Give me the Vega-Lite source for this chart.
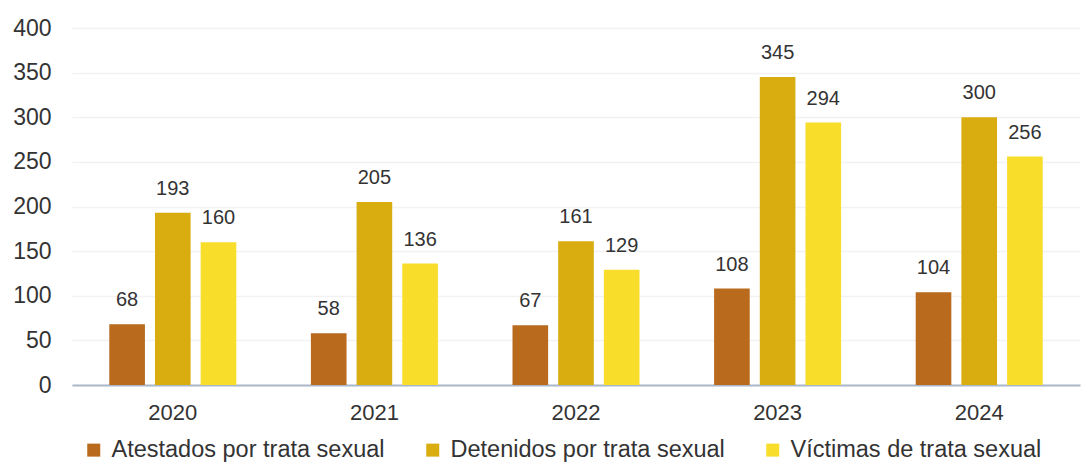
{
  "$schema": "https://vega.github.io/schema/vega-lite/v6.json",
  "width": 1088,
  "height": 462,
  "autosize": {"type": "fit", "contains": "padding"},
  "padding": {"left": 12, "top": 17, "right": 8, "bottom": 0},
  "background": "white",
  "config": {
    "font": "Liberation Sans",
    "view": {"stroke": null}
  },
  "data": {
    "values": [
      {"year": "2020", "serie": "Atestados por trata sexual", "value": 68},
      {"year": "2020", "serie": "Detenidos por trata sexual", "value": 193},
      {"year": "2020", "serie": "Víctimas de trata sexual", "value": 160},
      {"year": "2021", "serie": "Atestados por trata sexual", "value": 58},
      {"year": "2021", "serie": "Detenidos por trata sexual", "value": 205},
      {"year": "2021", "serie": "Víctimas de trata sexual", "value": 136},
      {"year": "2022", "serie": "Atestados por trata sexual", "value": 67},
      {"year": "2022", "serie": "Detenidos por trata sexual", "value": 161},
      {"year": "2022", "serie": "Víctimas de trata sexual", "value": 129},
      {"year": "2023", "serie": "Atestados por trata sexual", "value": 108},
      {"year": "2023", "serie": "Detenidos por trata sexual", "value": 345},
      {"year": "2023", "serie": "Víctimas de trata sexual", "value": 294},
      {"year": "2024", "serie": "Atestados por trata sexual", "value": 104},
      {"year": "2024", "serie": "Detenidos por trata sexual", "value": 300},
      {"year": "2024", "serie": "Víctimas de trata sexual", "value": 256}
    ]
  },
  "encoding": {
    "x": {
      "field": "year", "type": "nominal", "title": null,
      "scale": {"paddingInner": 0.37, "paddingOuter": 0.185},
      "axis": {"labelAngle": 0, "labelFontSize": 22, "labelColor": "#333333", "labelPadding": 17, "ticks": false, "domainColor": "#A9B7CA", "domainWidth": 2}
    },
    "xOffset": {"field": "serie", "type": "nominal", "scale": {"paddingInner": 0.22}},
    "y": {
      "field": "value", "type": "quantitative", "title": null,
      "scale": {"domain": [0, 400]},
      "axis": {"values": [0, 50, 100, 150, 200, 250, 300, 350, 400], "labelFontSize": 23, "labelColor": "#333333", "labelPadding": 21, "ticks": false, "domain": false, "gridColor": "#F2F2F2", "gridWidth": 1.5}
    }
  },
  "layer": [
    {
      "mark": {"type": "bar"},
      "encoding": {
        "color": {
          "field": "serie", "type": "nominal", "title": " ",
          "scale": {"range": ["#B96A1C", "#D9AC10", "#F8DD2B"]},
          "legend": {"orient": "bottom", "direction": "horizontal", "titleOrient": "left", "titlePadding": 10, "titleFontSize": 10, "symbolType": "square", "symbolSize": 169, "labelFontSize": 23.5, "labelColor": "#333333", "columnPadding": 36, "labelLimit": 400, "symbolStrokeWidth": 0, "labelOffset": 6, "offset": 15, "padding": 0}
        }
      }
    },
    {
      "mark": {"type": "text", "fontSize": 20, "color": "#333333", "baseline": "alphabetic", "dy": -18},
      "encoding": {"text": {"field": "value", "type": "quantitative"}}
    }
  ]
}
